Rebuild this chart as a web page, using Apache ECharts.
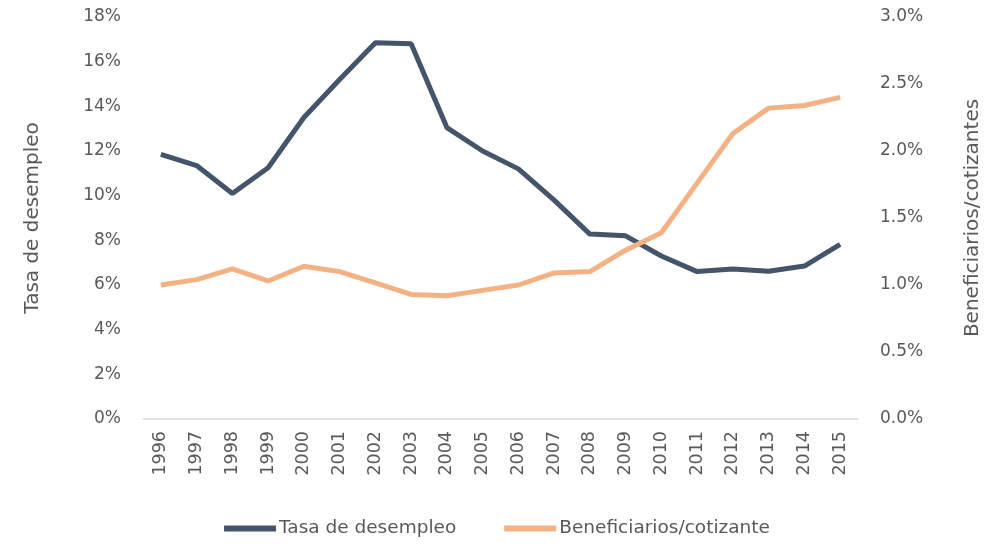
<!DOCTYPE html>
<html><head><meta charset="utf-8">
<script src="https://cdn.jsdelivr.net/npm/echarts@6/dist/echarts.min.js"></script>
<style>html,body{margin:0;padding:0;background:#fff}#c{width:994px;height:545px}</style>
</head><body><div id="c"></div>
<script>
const years = ['1996','1997','1998','1999','2000','2001','2002','2003','2004','2005','2006','2007','2008','2009','2010','2011','2012','2013','2014','2015'];
const desempleo = [11.85, 11.35, 10.1, 11.25, 13.5, 15.2, 16.85, 16.8, 13.05, 12.0, 11.2, 9.8, 8.28, 8.2, 7.3, 6.6, 6.72, 6.62, 6.85, 7.82];
const beneficiarios = [1.0, 1.04, 1.12, 1.03, 1.14, 1.10, 1.015, 0.93, 0.92, 0.96, 1.0, 1.09, 1.10, 1.26, 1.39, 1.76, 2.13, 2.32, 2.34, 2.40];
const leftTicks = {min: 0, max: 18, interval: 2};
const rightTicks = {min: 0, max: 3, interval: 0.5};

const FONT = 'DejaVu Sans';
const TXT = '#595959';
const chart = echarts.init(document.getElementById('c'), null, {renderer: 'canvas'});
chart.setOption({
  animation: false,
  textStyle: {fontFamily: FONT},
  grid: {left: 143, right: 136, top: 17, bottom: 126, containLabel: false},
  legend: {
    bottom: 2, left: 'center', itemGap: 48, itemWidth: 52, itemHeight: 6,
    textStyle: {fontFamily: FONT, fontSize: 18.5, color: TXT, padding: [0, 0, 0, -2]},
    data: [{name: 'Tasa de desempleo', icon: 'rect'}, {name: 'Beneficiarios/cotizante', icon: 'rect'}]
  },
  xAxis: {
    type: 'category', data: years, boundaryGap: true,
    axisLine: {lineStyle: {color: '#d9d9d9', width: 1.5}},
    axisTick: {show: false},
    axisLabel: {rotate: 90, fontSize: 17.5, color: TXT, margin: 12, fontFamily: FONT}
  },
  yAxis: [
    {type: 'value', min: leftTicks.min, max: leftTicks.max, interval: leftTicks.interval,
     name: 'Tasa de desempleo', nameLocation: 'middle', nameRotate: 90, nameGap: 100,
     nameTextStyle: {fontSize: 20, color: TXT, fontFamily: FONT},
     axisLine: {show: false}, axisTick: {show: false}, splitLine: {show: false},
     axisLabel: {formatter: v => v + '%', fontSize: 17, color: TXT, margin: 22, fontFamily: FONT}},
    {type: 'value', min: rightTicks.min, max: rightTicks.max, interval: rightTicks.interval, position: 'right',
     name: 'Beneficiarios/cotizantes', nameLocation: 'middle', nameRotate: 90, nameGap: 105,
     nameTextStyle: {fontSize: 20, color: TXT, fontFamily: FONT},
     axisLine: {show: false}, axisTick: {show: false}, splitLine: {show: false},
     axisLabel: {formatter: v => v.toFixed(1) + '%', fontSize: 17, color: TXT, margin: 22, fontFamily: FONT}}
  ],
  series: [
    {name: 'Tasa de desempleo', type: 'line', yAxisIndex: 0, data: desempleo, symbol: 'none',
     lineStyle: {color: '#44546A', width: 5}, itemStyle: {color: '#44546A'}},
    {name: 'Beneficiarios/cotizante', type: 'line', yAxisIndex: 1, data: beneficiarios, symbol: 'none',
     lineStyle: {color: '#F4B183', width: 5}, itemStyle: {color: '#F4B183'}}
  ]
});
</script></body></html>
